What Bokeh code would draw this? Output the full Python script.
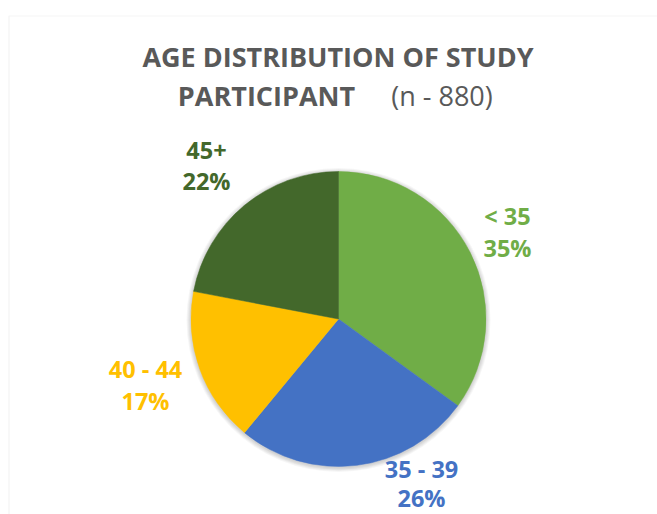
import numpy as np
from bokeh.plotting import figure
from bokeh.models import ColumnDataSource, Range1d, BoxAnnotation
from bokeh.core.properties import value
from bokeh.embed import file_html
from bokeh.resources import INLINE

# ---- data ----
categories = ["< 35", "35 - 39", "40 - 44", "45+"]
percents = [35, 26, 17, 22]
colors = ["#70AD47", "#4472C4", "#FFC000", "#43682B"]
title_line1 = "AGE DISTRIBUTION OF STUDY"
title_line2_bold = "PARTICIPANT"
title_line2_regular = "(n - 880)"

# ---- layout (page pixel coords; data coords = page coords with y flipped) ----
W, H = 657, 514
OX, OY = 0, 0
def px(x):
    return x - OX
def py(y):
    return H - (y - OY)

cx, cy, r = 338, 318.5, 147.5
label_pos = [(507, 215, 247), (421, 468, 497.5), (145, 368, 400), (206, 150, 180)]

p = figure(width=W, height=H, x_range=Range1d(0, W), y_range=Range1d(0, H),
           output_backend="svg", toolbar_location=None, min_border=0)
p.axis.visible = False
p.grid.visible = False
p.outline_line_color = None
p.background_fill_color = "white"
p.border_fill_color = "white"

# chart area border
p.add_layout(BoxAnnotation(left=px(8.5), right=px(700), top=py(15.5), bottom=py(600),
                           fill_alpha=0, line_color="#D9D9D9", line_width=1.2))

# soft shadow
for k in range(1, 6):
    p.circle(x=[px(cx)], y=[py(cy) - 1], radius=r + k * 0.9,
             fill_color="black", fill_alpha=0.035, line_color=None)

total = sum(percents)
fr = np.array(percents, dtype=float) / total
cum = np.concatenate([[0], np.cumsum(fr)])
start = np.pi / 2 - cum[:-1] * 2 * np.pi
end = np.pi / 2 - cum[1:] * 2 * np.pi
src = ColumnDataSource(dict(start=start, end=end, color=colors, cat=categories))
p.wedge(x=px(cx), y=py(cy), radius=r, start_angle="start", end_angle="end",
        direction="clock", fill_color="color", line_color="color", line_width=0.5, source=src)

# labels
for cat, pc, col, (lx, ly1, ly2) in zip(categories, percents, colors, label_pos):
    p.text(x=[px(lx)], y=[py(ly1)], text=[cat], text_color=col,
           text_font=value("Open Sans"), text_font_style="bold", text_font_size="23.5px",
           text_align="center", text_baseline="middle")
    p.text(x=[px(lx)], y=[py(ly2)], text=[f"{pc}%"], text_color=col,
           text_font=value("Open Sans"), text_font_style="bold", text_font_size="23.5px",
           text_align="center", text_baseline="middle")

# title
p.text(x=[px(337.5)], y=[py(56)], text=[title_line1], text_color="#595959",
       text_font=value("Open Sans"), text_font_style="bold", text_font_size="27px",
       text_align="center", text_baseline="middle")
p.text(x=[px(266)], y=[py(95)], text=[title_line2_bold], text_color="#595959",
       text_font=value("Open Sans"), text_font_style="bold", text_font_size="27px",
       text_align="center", text_baseline="middle")
p.text(x=[px(441.5)], y=[py(95)], text=[title_line2_regular], text_color="#595959",
       text_font=value("Open Sans"), text_font_style="normal", text_font_size="27px",
       text_align="center", text_baseline="middle")

open("out.html", "w").write(file_html(p, INLINE))
